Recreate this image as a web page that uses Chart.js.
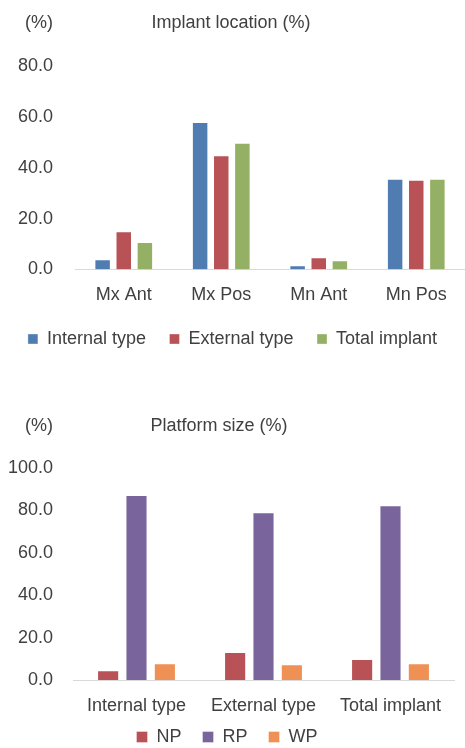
<!DOCTYPE html>
<html>
<head>
<meta charset="utf-8">
<script src="https://cdn.jsdelivr.net/npm/chart.js@4"></script>
<style>
  html, body { margin: 0; padding: 0; background: #fff; width: 465px; height: 748px; overflow: hidden; }
  canvas { position: absolute; left: 0; }
  #c1 { top: 0; }
  #c2 { top: 362px; }
</style>
</head>
<body>
<canvas id="c1" width="465" height="362"></canvas>
<canvas id="c2" width="465" height="404"></canvas>
<script>
// ---- Data: Implant location (%) ----
const locationCategories = ['Mx Ant', 'Mx Pos', 'Mn Ant', 'Mn Pos'];
const locationInternal = [4.0, 58.0, 1.7, 35.7];
const locationExternal = [15.0, 44.9, 4.8, 35.3];
const locationTotal = [10.8, 49.8, 3.6, 35.7];
const locationTicks = [0, 20, 40, 60, 80];

// ---- Data: Platform size (%) ----
const platformCategories = ['Internal type', 'External type', 'Total implant'];
const platformNP = [4.6, 13.2, 9.9];
const platformRP = [87.3, 79.1, 82.4];
const platformWP = [7.9, 7.4, 7.9];
const platformTicks = [0, 20, 40, 60, 80, 100];

const FONT = "'Liberation Sans', Arial, sans-serif";
const TEXT = '#404040';

const headerPlugin = {
  id: 'header',
  afterLayout(chart, args, opts) {
    // move the legend up a little, closer to the category labels
    if (chart.legend && opts.legendShift) {
      chart.legend.top += opts.legendShift;
      chart.legend.bottom += opts.legendShift;
    }
  },
  afterDraw(chart, args, opts) {
    const ctx = chart.ctx;
    ctx.save();
    ctx.font = '18px ' + FONT;
    ctx.fillStyle = TEXT;
    ctx.textBaseline = 'middle';
    ctx.textAlign = 'right';
    ctx.fillText(opts.unit, opts.unitRight, opts.y);
    ctx.textAlign = 'center';
    ctx.fillText(opts.title, opts.titleX, opts.y);
    ctx.restore();
  }
};

function makeChart(id, cfg) {
  return new Chart(document.getElementById(id), {
    type: 'bar',
    data: {
      labels: cfg.labels,
      datasets: cfg.series.map(s => ({
        label: s.label,
        data: s.data,
        backgroundColor: s.color,
        borderColor: 'rgba(255,255,255,0.35)',
        borderWidth: 1,
        categoryPercentage: cfg.cp,
        barPercentage: cfg.bp
      }))
    },
    options: {
      responsive: false,
      animation: false,
      layout: { padding: cfg.padding },
      scales: {
        x: {
          grid: { display: false, drawTicks: false },
          border: { display: true, color: '#D9D9D9', width: 1 },
          ticks: { color: TEXT, font: { size: 18, family: FONT }, padding: cfg.xPad, maxRotation: 0, autoSkip: false },
          afterFit: s => { s.height = cfg.xHeight; }
        },
        y: {
          min: 0,
          max: cfg.yMax,
          grid: { display: false, drawTicks: false },
          border: { display: false },
          afterBuildTicks: s => { s.ticks = cfg.ticks.map(v => ({ value: v })); },
          ticks: { color: TEXT, font: { size: 18, family: FONT }, padding: cfg.yPad, callback: v => Number(v).toFixed(1) },
          afterFit: s => { s.width = cfg.yWidth; }
        }
      },
      plugins: {
        tooltip: { enabled: false },
        legend: {
          position: 'bottom',
          labels: { color: TEXT, font: { size: 18, family: FONT }, boxWidth: cfg.box, boxHeight: cfg.box, padding: cfg.legendPad }
        },
        header: cfg.header
      }
    },
    plugins: [headerPlugin]
  });
}

makeChart('c1', {
  labels: locationCategories,
  series: [
    { label: 'Internal type', data: locationInternal, color: '#4F7DB2' },
    { label: 'External type', data: locationExternal, color: '#B85256' },
    { label: 'Total implant', data: locationTotal, color: '#93B064' }
  ],
  ticks: locationTicks,
  yMax: 80,
  cp: 0.65, bp: 0.78,
  padding: { top: 66, bottom: 4, left: 0, right: 0 },
  xPad: 15, xHeight: 37,
  yPad: 22, yWidth: 75,
  box: 10, legendPad: 23.5,
  header: { unit: '(%)', unitRight: 53, title: 'Implant location (%)', titleX: 231, y: 23, legendShift: 0 }
});

makeChart('c2', {
  labels: platformCategories,
  series: [
    { label: 'NP', data: platformNP, color: '#B85256' },
    { label: 'RP', data: platformRP, color: '#7A649C' },
    { label: 'WP', data: platformWP, color: '#EF9155' }
  ],
  ticks: platformTicks,
  yMax: 100,
  cp: 0.67, bp: 0.78,
  padding: { top: 106, bottom: 0, left: 0, right: 11 },
  xPad: 15, xHeight: 37,
  yPad: 20, yWidth: 73,
  box: 11, legendPad: 21,
  header: { unit: '(%)', unitRight: 53, title: 'Platform size (%)', titleX: 219, y: 64, legendShift: -10 }
});
</script>
</body>
</html>
